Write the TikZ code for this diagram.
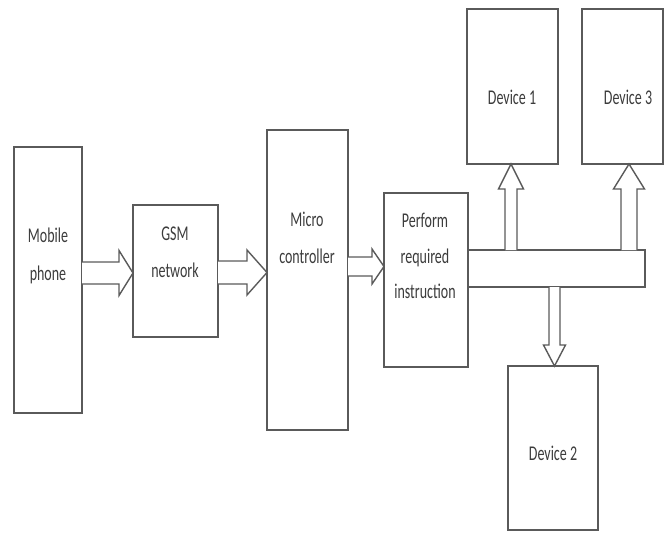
\documentclass[tikz,border=0pt]{standalone}
\usepackage{fontspec}
\setmainfont{Carlito}
\usetikzlibrary{calc}
\definecolor{linec}{HTML}{5A5A5A}
\definecolor{textc}{HTML}{3C3C3C}
\tikzset{
  box/.style={draw=linec, line width=1.5pt, fill=white, inner sep=0pt, outer sep=0pt, anchor=north west},
  blk/.style={draw=linec, line width=1.4pt, fill=white, line join=miter},
  lbl/.style={anchor=base, inner sep=0pt, text=textc, font=\fontsize{14}{16}\selectfont}
}
\newcommand\st[1]{\scalebox{1}[1.5]{#1}}
% horizontal arrow to the right: #1 tail point, #2 tip point, #3 half shaft, #4 half head, #5 head length
\newcommand\harr[5]{%
  \draw[blk] ($(#1)+(0,-#3)$) -- ($(#2)+(-#5,-#3)$) -- ($(#2)+(-#5,-#4)$) -- (#2)
    -- ($(#2)+(-#5,#4)$) -- ($(#2)+(-#5,#3)$) -- ($(#1)+(0,#3)$);}
% vertical arrow: #5 signed offset of head base from tip (pixel y, down positive)
\newcommand\varr[5]{%
  \draw[blk] ($(#1)+(-#3,0)$) -- ($(#2)+(-#3,#5)$) -- ($(#2)+(-#4,#5)$) -- (#2)
    -- ($(#2)+(#4,#5)$) -- ($(#2)+(#3,#5)$) -- ($(#1)+(#3,0)$);}
\begin{document}
\begin{tikzpicture}[x=1pt,y=-1pt]
\useasboundingbox (0,0) rectangle (665,533);
% boxes
\node[box, minimum width=68pt, minimum height=266pt] (mob) at (14,147) {};
\node[box, minimum width=85pt, minimum height=132pt] (gsm) at (133,205) {};
\node[box, minimum width=81pt, minimum height=300pt] (mic) at (267,130) {};
\node[box, minimum width=84pt, minimum height=174pt] (perf) at (384,193) {};
\node[box, minimum width=177pt, minimum height=37pt] (bus) at (468,250) {};
\node[box, minimum width=91pt, minimum height=155pt] (dev1) at (467,9) {};
\node[box, minimum width=81pt, minimum height=155pt] (dev3) at (582,9) {};
\node[box, minimum width=90pt, minimum height=164pt] (dev2) at (508,366) {};
% labels
\node[lbl] (mobA) at (48,242) {\st{Mobile}};
\node[lbl] (mobB) at (48,280) {\st{phone}};
\node[lbl] (gsmA) at (175,240) {\st{GSM}};
\node[lbl] (gsmB) at (175,277) {\st{network}};
\node[lbl] (micA) at (307,226) {\st{Micro}};
\node[lbl] (micB) at (307,263) {\st{controller}};
\node[lbl] (perfA) at (425,227) {\st{Perform}};
\node[lbl] (perfB) at (425,263) {\st{required}};
\node[lbl] (perfC) at (425,298) {\st{instruction}};
\node[lbl] (dev1t) at (512,104) {\st{Device 1}};
\node[lbl] (dev3t) at (628,104) {\st{Device 3}};
\node[lbl] (dev2t) at (553,460) {\st{Device 2}};
% arrow reference lines
\coordinate (y1) at (0,273);
\coordinate (y2) at (0,272.5);
\coordinate (y3) at (0,266.5);
\coordinate (x1) at (511,0);
\coordinate (x3) at (629,0);
\coordinate (x2) at (554.5,0);
% arrows
\harr{mob.east|-y1}{gsm.west|-y1}{11}{22.5}{14}
\harr{gsm.east|-y2}{mic.west|-y2}{11.5}{22.5}{20}
\harr{mic.east|-y3}{perf.west|-y3}{9.5}{17.5}{12}
\varr{bus.north-|x1}{dev1.south-|x1}{6}{12.5}{25}
\varr{bus.north-|x3}{dev3.south-|x3}{8}{15.5}{25}
\varr{bus.south-|x2}{dev2.north-|x2}{5.5}{11}{-21}
\end{tikzpicture}
\end{document}
